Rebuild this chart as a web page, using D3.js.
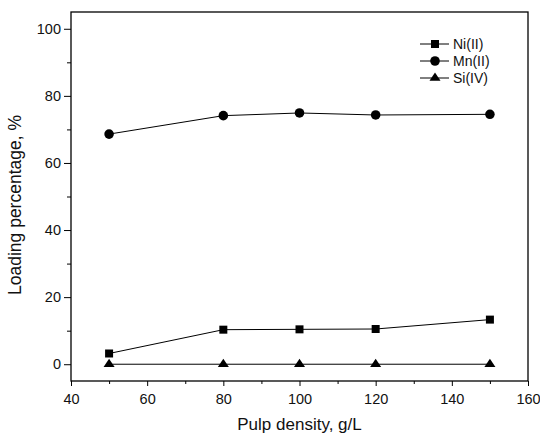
<!DOCTYPE html>
<html>
<head>
<meta charset="utf-8">
<script src="https://cdn.jsdelivr.net/npm/d3@7"></script>
<style>
  body { margin: 0; background: #fff; }
  text { font-family: "Liberation Sans", Arial, sans-serif; }
</style>
</head>
<body>
<div id="canvas"></div>
<script>
"use strict"

/* data */
let pulpDensity = [50, 80, 100, 120, 150];
let niValues = [3.2, 10.3, 10.4, 10.5, 13.3];
let mnValues = [68.6, 74.1, 74.9, 74.3, 74.5];
let siValues = [0, 0, 0, 0, 0];
let seriesNames = ["Ni(II)", "Mn(II)", "Si(IV)"];
let xTicks = [40, 60, 80, 100, 120, 140, 160];
let yTicks = [0, 20, 40, 60, 80, 100];

let drawing = d3.select("#canvas")
    .append("svg")
    .attr("width", 540)
    .attr("height", 435);

drawing.append("rect")
    .attr("width", 540)
    .attr("height", 435)
    .attr("fill", "white");

/* plot area */
let plotLeft = 71, plotRight = 528, plotTop = 12, plotBottom = 381;

let x = d3.scaleLinear().domain([40, 160]).range([plotLeft, plotRight]);
let y = d3.scaleLinear().domain([-5, 105]).range([plotBottom, plotTop]);

/* minor ticks first */
let xMinor = d3.axisBottom(x).tickValues(d3.range(50, 160, 20)).tickSize(3).tickFormat("");
let yMinor = d3.axisLeft(y).tickValues(d3.range(10, 100, 20)).tickSize(4).tickFormat("");

drawing.append("g")
    .attr("transform", "translate(0," + plotBottom + ")")
    .call(xMinor)
    .call(g => g.select(".domain").remove());

drawing.append("g")
    .attr("transform", "translate(" + plotLeft + ",0)")
    .call(yMinor)
    .call(g => g.select(".domain").remove());

/* major ticks */
drawing.append("g")
    .attr("transform", "translate(0," + plotBottom + ")")
    .call(d3.axisBottom(x).tickValues(xTicks).tickSize(5).tickSizeOuter(0).tickPadding(8));

drawing.append("g")
    .attr("transform", "translate(" + plotLeft + ",0)")
    .call(d3.axisLeft(y).tickValues(yTicks).tickSize(7).tickSizeOuter(0).tickPadding(3));

drawing.selectAll(".tick line").attr("stroke", "black").attr("stroke-width", 1);
drawing.selectAll(".tick text")
    .attr("font-family", "Liberation Sans, Arial, sans-serif")
    .attr("font-size", 14.5)
    .attr("fill", "#111");
drawing.selectAll(".domain").attr("stroke", "none");

/* frame */
drawing.append("rect")
    .attr("x", plotLeft)
    .attr("y", plotTop)
    .attr("width", plotRight - plotLeft)
    .attr("height", plotBottom - plotTop)
    .attr("fill", "none")
    .attr("stroke", "black")
    .attr("stroke-width", 1.3);

/* axis titles */
drawing.append("text")
    .attr("x", (plotLeft + plotRight) / 2)
    .attr("y", 430)
    .attr("text-anchor", "middle")
    .attr("font-size", 17)
    .attr("fill", "#111")
    .text("Pulp density, g/L");

drawing.append("text")
    .attr("transform", "translate(21,205) rotate(-90)")
    .attr("text-anchor", "middle")
    .attr("font-size", 17.5)
    .attr("fill", "#111")
    .text("Loading percentage, %");

/* the triangle in the picture is wider than an equilateral one */
let wideTriangle = {
    draw: function (context, size) {
        let s = Math.sqrt(size);
        let hw = s * 0.69, h = s * 1.05;
        context.moveTo(0, -h * 2 / 3);
        context.lineTo(hw, h / 3);
        context.lineTo(-hw, h / 3);
        context.closePath();
    }
};

/* series */
let line = d3.line()
    .x((d, i) => x(pulpDensity[i]))
    .y(d => y(d));

let symbols = [d3.symbolSquare, d3.symbolCircle, wideTriangle];
let symbolSizes = [64, 72, 64];
let allSeries = [niValues, mnValues, siValues];

allSeries.forEach(function (vals, k) {
    drawing.append("path")
        .attr("d", line(vals))
        .attr("fill", "none")
        .attr("stroke", "black")
        .attr("stroke-width", 1);

    drawing.selectAll(".pt" + k)
        .data(vals)
        .enter()
        .append("path")
        .attr("d", d3.symbol().type(symbols[k]).size(symbolSizes[k]))
        .attr("transform", (d, i) => "translate(" + x(pulpDensity[i]) + "," + y(d) + ")")
        .attr("fill", "black");
});

/* legend */
let legendX = 420, legendY = 44, legendStep = 17;
seriesNames.forEach(function (name, k) {
    let ly = legendY + k * legendStep;
    drawing.append("line")
        .attr("x1", legendX)
        .attr("x2", legendX + 29)
        .attr("y1", ly)
        .attr("y2", ly)
        .attr("stroke", "black")
        .attr("stroke-width", 1);
    drawing.append("path")
        .attr("d", d3.symbol().type(symbols[k]).size(symbolSizes[k]))
        .attr("transform", "translate(" + (legendX + 15) + "," + ly + ")")
        .attr("fill", "black");
    drawing.append("text")
        .attr("x", legendX + 33)
        .attr("y", ly + 5)
        .attr("font-size", 14)
        .attr("fill", "#111")
        .text(name);
});
</script>
</body>
</html>
